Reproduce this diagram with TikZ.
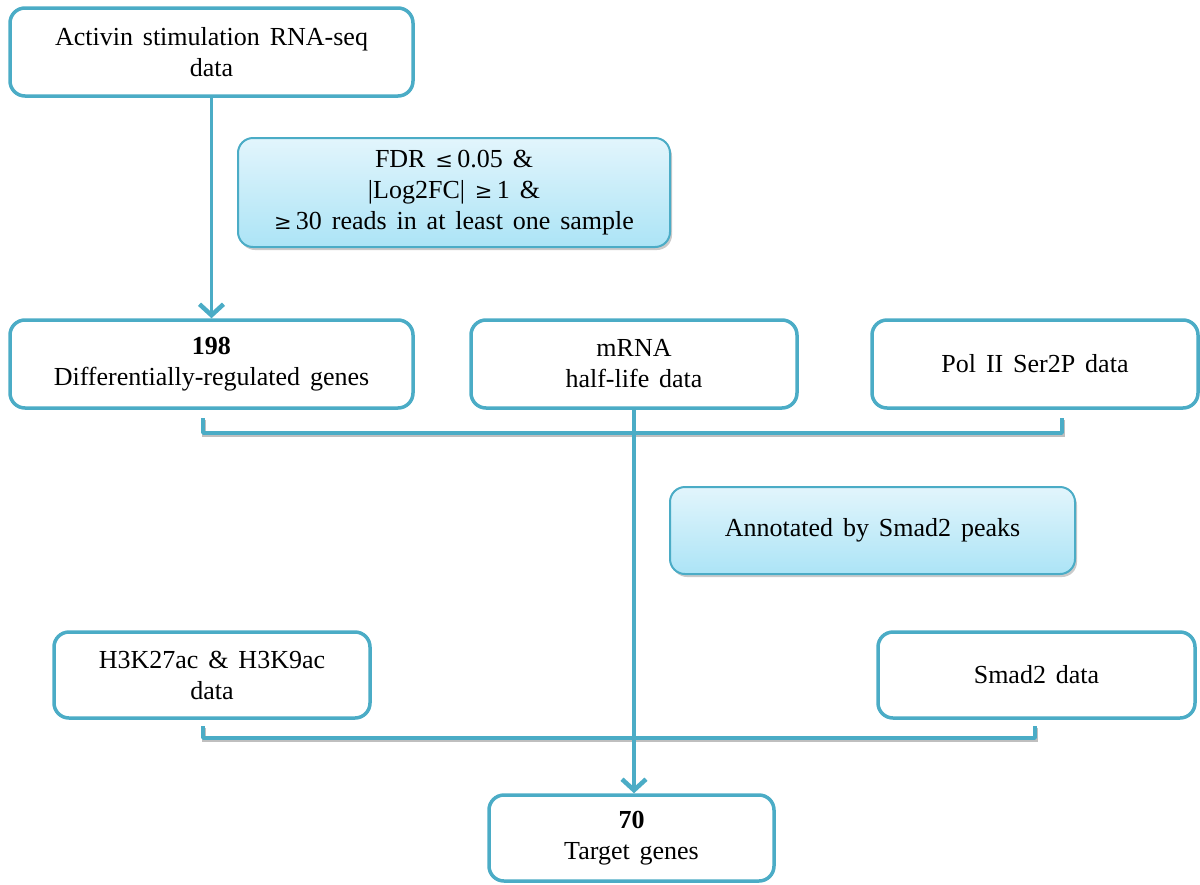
\documentclass[tikz,border=0pt]{standalone}
\usepackage{fontspec}
\setmainfont{Liberation Serif}
\usetikzlibrary{arrows.meta,shadows,calc}
\definecolor{aqua}{HTML}{4BACC6}
\definecolor{filltop}{HTML}{E2F5FC}
\definecolor{fillbot}{HTML}{ACE4F6}
\newcommand{\rel}[1]{{\fontspec{DejaVu Serif}\fontsize{21}{31}\selectfont #1}}
\newcommand{\widespaces}{\spaceskip=0.38em plus 0.1em minus 0.05em\relax}
\tikzset{
  every node/.style={font=\fontsize{26}{31}\selectfont,
    execute at begin node=\widespaces,
    align=center, inner sep=0pt},
  databox/.style={draw=aqua, line width=3.5pt, rounded corners=15pt, fill=white},
  filterbox/.style={draw=aqua, line width=2pt, rounded corners=15pt,
    top color=filltop, bottom color=fillbot,
    drop shadow={shadow xshift=2pt, shadow yshift=-3pt, opacity=0.35, fill=black!60}},
  flow/.style={draw=aqua, line width=3.5pt},
  bracket/.style={draw=aqua, line width=3.5pt, line join=round,
    preaction={draw=black!25, line width=3.5pt, transform canvas={xshift=1pt, yshift=-2pt}}},
  tip/.style={-{Straight Barb[length=11pt, width=24pt, line width=4.5pt]}}
}
\begin{document}
\begin{tikzpicture}[x=1pt, y=-1pt]
\useasboundingbox (0,0) rectangle (1200,884);

% data sources and results
\node[databox, minimum width=403pt, minimum height=88pt] (rnaseq) at (211.5,52) {Activin stimulation RNA-seq\\data};
\node[databox, minimum width=403pt, minimum height=88pt] (deg) at (211.5,364) {\textbf{198}\\Differentially-regulated genes};
\node[databox, minimum width=326pt, minimum height=88pt] (mrna) at (634,364) {mRNA\\half-life data};
\node[databox, minimum width=326pt, minimum height=88pt] (pol) at (1035,364) {Pol II Ser2P data};
\node[databox, minimum width=316pt, minimum height=86pt] (hist) at (212,675) {H3K27ac \& H3K9ac\\data};
\node[databox, minimum width=317pt, minimum height=86pt] (smad) at (1036.5,675) {Smad2 data};
\node[databox, minimum width=285pt, minimum height=86pt] (target) at (631.5,838) {\textbf{70}\\Target genes};

% filtering criteria
\node[filterbox, minimum width=432pt, minimum height=109pt] (filt) at (454,192.5)
  {FDR \rel{≤}\,0.05 \&\\
   |Log2FC| \rel{≥}\,1 \&\\
   \rel{≥}\,30 reads in at least one sample};
\node[filterbox, minimum width=405pt, minimum height=87pt] (annot) at (872.5,530.5) {Annotated by Smad2 peaks};

% connectors
\draw[flow, tip] (rnaseq.south) -- (deg.north);

\coordinate (ta) at (203,418);
\coordinate (tb) at (1062,418);
\draw[bracket] (ta) |- (tb |- 0,433) -- (tb);

\coordinate (ua) at (203,726);
\coordinate (ub) at (1035,726);
\draw[bracket] (ua) |- (ub |- 0,738) -- (ub);

\draw[flow, tip] (mrna.south) -- (mrna.south |- target.north);
\end{tikzpicture}
\end{document}
